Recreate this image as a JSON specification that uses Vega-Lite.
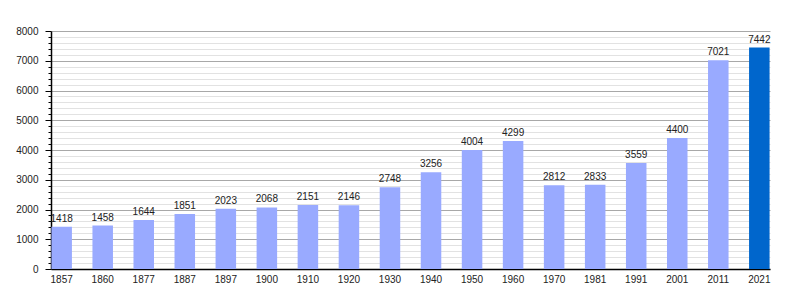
{
  "$schema": "https://vega.github.io/schema/vega-lite/v6.json",
  "autosize": "none",
  "width": 719,
  "height": 238,
  "padding": {"left": 51, "top": 31, "right": 30, "bottom": 31},
  "background": "white",
  "config": {
    "view": {"stroke": null},
    "font": "Liberation Sans",
    "axis": {"labelFont": "Liberation Sans", "labelFontSize": 10, "labelColor": "#222", "domainColor": "#000", "domainWidth": 1.5}
  },
  "data": {
    "values": [
      {"year": "1857", "pop": 1418},
      {"year": "1860", "pop": 1458},
      {"year": "1877", "pop": 1644},
      {"year": "1887", "pop": 1851},
      {"year": "1897", "pop": 2023},
      {"year": "1900", "pop": 2068},
      {"year": "1910", "pop": 2151},
      {"year": "1920", "pop": 2146},
      {"year": "1930", "pop": 2748},
      {"year": "1940", "pop": 3256},
      {"year": "1950", "pop": 4004},
      {"year": "1960", "pop": 4299},
      {"year": "1970", "pop": 2812},
      {"year": "1981", "pop": 2833},
      {"year": "1991", "pop": 3559},
      {"year": "2001", "pop": 4400},
      {"year": "2011", "pop": 7021},
      {"year": "2021", "pop": 7442}
    ]
  },
  "encoding": {
    "x": {
      "field": "year", "type": "nominal", "sort": null,
      "scale": {"paddingInner": 0.5, "paddingOuter": 0.01},
      "axis": {"title": null, "labelAngle": 0, "ticks": false, "labelPadding": 5, "grid": false}
    },
    "y": {
      "field": "pop", "type": "quantitative",
      "scale": {"domain": [0, 8000], "nice": false},
      "axis": {
        "title": null,
        "values": [0,200,400,600,800,1000,1200,1400,1600,1800,2000,2200,2400,2600,2800,3000,3200,3400,3600,3800,4000,4200,4400,4600,4800,5000,5200,5400,5600,5800,6000,6200,6400,6600,6800,7000,7200,7400,7600,7800,8000],
        "labelExpr": "datum.value % 1000 === 0 ? datum.label : ''",
        "format": "d",
        "labelOverlap": false,
        "labelPadding": 7,
        "grid": true,
        "gridColor": {"condition": {"test": "datum.value % 1000 === 0", "value": "#a8a8a8"}, "value": "#e2e2e2"},
        "gridWidth": 1,
        "tickColor": "#000",
        "tickSize": {"condition": {"test": "datum.value % 1000 === 0", "value": 6}, "value": 3}
      }
    }
  },
  "layer": [
    {
      "mark": {"type": "bar"},
      "encoding": {
        "color": {
          "condition": {"test": "datum.year === '2021'", "value": "#0066cc"},
          "value": "#99aaff"
        }
      }
    },
    {
      "mark": {"type": "text", "baseline": "bottom", "dy": -3, "fontSize": 10, "color": "#222", "font": "Liberation Sans"},
      "encoding": {"text": {"field": "pop", "type": "quantitative", "format": "d"}}
    }
  ]
}
